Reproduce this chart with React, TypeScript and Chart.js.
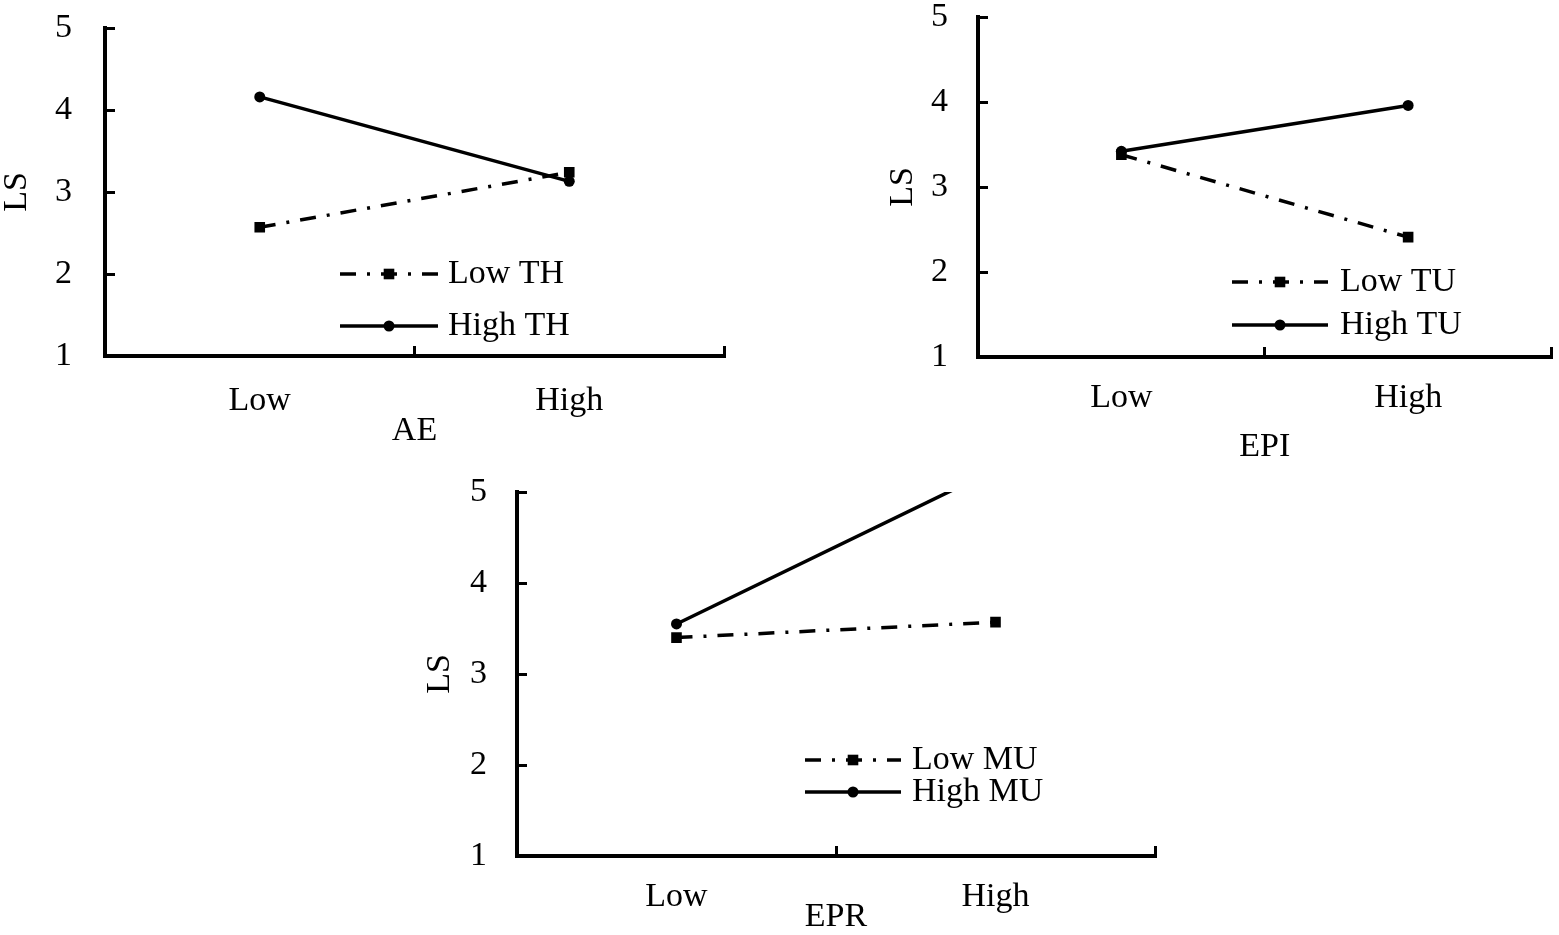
import React, { useEffect, useRef } from 'react';
import { Chart, registerables } from 'chart.js';

Chart.register(...registerables);

const FONT_FAMILY = '"Liberation Serif", "Times New Roman", Times, serif';
const FONT_SIZE = 34;

// ---- data ----
const categories = ['Low', 'High'];
const yAxisTitle = 'LS';
const yMin = 1;
const yMax = 5;

const aeTitle = 'AE';
const aeSeriesLabels = ['Low TH', 'High TH'];
const aeLowTH = [2.57, 3.24];
const aeHighTH = [4.16, 3.13];

const epiTitle = 'EPI';
const epiSeriesLabels = ['Low TU', 'High TU'];
const epiLowTU = [3.38, 2.41];
const epiHighTU = [3.42, 3.96];

const eprTitle = 'EPR';
const eprSeriesLabels = ['Low MU', 'High MU'];
const eprLowMU = [3.4, 3.57];
const eprHighMU = [3.55, 5.25];

// ---- styles ----
const DASH_DOT = [16, 11, 3, 11];
const LINE_W = 3.5;
const AXIS_W = 4;

function makeDatasets(labels: string[], low: number[], high: number[]) {
  return [
    {
      label: labels[0],
      data: low,
      borderColor: '#000',
      backgroundColor: '#000',
      borderWidth: LINE_W,
      borderDash: DASH_DOT,
      pointStyle: 'rect',
      pointRadius: 7.5,
      pointBorderWidth: 0,
      tension: 0,
    },
    {
      label: labels[1],
      data: high,
      borderColor: '#000',
      backgroundColor: '#000',
      borderWidth: LINE_W,
      pointStyle: 'circle',
      pointRadius: 5.5,
      pointBorderWidth: 0,
      tension: 0,
    },
  ];
}

const insideLegend = {
  id: 'insideLegend',
  afterDatasetsDraw(chart: any, _args: any, opts: any) {
    const ctx = chart.ctx;
    ctx.save();
    chart.data.datasets.forEach((ds: any, i: number) => {
      const y = opts.rows[i];
      ctx.strokeStyle = ds.borderColor;
      ctx.lineWidth = ds.borderWidth;
      ctx.setLineDash(ds.borderDash || []);
      ctx.lineDashOffset = 0;
      ctx.beginPath();
      ctx.moveTo(opts.x0, y);
      ctx.lineTo(opts.x1, y);
      ctx.stroke();
      ctx.setLineDash([]);
      const mx = (opts.x0 + opts.x1) / 2;
      ctx.fillStyle = ds.backgroundColor;
      ctx.beginPath();
      if (ds.pointStyle === 'rect') {
        const s = ds.pointRadius * Math.SQRT1_2;
        ctx.rect(mx - s, y - s, 2 * s, 2 * s);
      } else {
        ctx.arc(mx, y, ds.pointRadius, 0, Math.PI * 2);
      }
      ctx.fill();
      ctx.fillStyle = '#000';
      ctx.font = `${FONT_SIZE}px ${FONT_FAMILY}`;
      ctx.textAlign = 'left';
      ctx.textBaseline = 'middle';
      ctx.fillText(ds.label, opts.textX, y);
    });
    ctx.restore();
  },
};

type Spec = {
  left: number;
  top: number;
  w: number;
  h: number;
  padTop: number;
  padRight: number;
  yAxisW: number;
  xAxisH: number;
  xTickPad: number;
  xTitlePad: number;
  yTickPad: number;
  yTitlePad: number;
  xTitle: string;
  datasets: any[];
  legend: { x0: number; x1: number; textX: number; rows: number[] };
};

const specs: Spec[] = [
  {
    left: 0, top: 0, w: 740, h: 460,
    padTop: 28, padRight: 16, yAxisW: 105, xAxisH: 104,
    xTickPad: 38, xTitlePad: 12, yTickPad: 43, yTitlePad: 0,
    xTitle: aeTitle,
    datasets: makeDatasets(aeSeriesLabels, aeLowTH, aeHighTH),
    legend: { x0: 340, x1: 438, textX: 448, rows: [274, 326] },
  },
  {
    left: 880, top: 0, w: 679, h: 470,
    padTop: 17, padRight: 7, yAxisW: 98, xAxisH: 113,
    xTickPad: 34, xTitlePad: 6, yTickPad: 40, yTitlePad: 6,
    xTitle: epiTitle,
    datasets: makeDatasets(epiSeriesLabels, epiLowTU, epiHighTU),
    legend: { x0: 352, x1: 448, textX: 460, rows: [282, 325] },
  },
  {
    left: 420, top: 470, w: 750, h: 465,
    padTop: 22, padRight: 15, yAxisW: 97, xAxisH: 79,
    xTickPad: 34, xTitlePad: 1, yTickPad: 40, yTitlePad: 3,
    xTitle: eprTitle,
    datasets: makeDatasets(eprSeriesLabels, eprLowMU, eprHighMU),
    legend: { x0: 385, x1: 481, textX: 492, rows: [290, 322] },
  },
];

function Panel({ spec }: { spec: Spec }) {
  const ref = useRef<HTMLCanvasElement>(null);
  useEffect(() => {
    if (!ref.current) return;
    const font = { family: FONT_FAMILY, size: FONT_SIZE, lineHeight: 1 };
    const chart = new Chart(ref.current, {
      type: 'line',
      data: { labels: categories, datasets: spec.datasets as any },
      options: {
        animation: false,
        responsive: false,
        maintainAspectRatio: false,
        layout: { padding: { top: spec.padTop, right: spec.padRight, left: 0, bottom: 0 } },
        plugins: {
          legend: { display: false },
          tooltip: { enabled: false },
          insideLegend: spec.legend,
        } as any,
        scales: {
          x: {
            type: 'category',
            offset: true,
            grid: {
              offset: true,
              drawOnChartArea: false,
              drawTicks: true,
              tickLength: -10,
              color: '#000',
              lineWidth: 3,
            },
            border: { display: true, color: '#000', width: AXIS_W },
            ticks: { color: '#000', font, padding: spec.xTickPad, maxRotation: 0, autoSkip: false },
            title: {
              display: true,
              text: spec.xTitle,
              color: '#000',
              font,
              padding: { top: 0, bottom: spec.xTitlePad },
            },
            afterFit: (s: any) => {
              s.height = spec.xAxisH;
              s.paddingLeft = 0;
              s.paddingRight = 0;
            },
          },
          y: {
            min: yMin,
            max: yMax,
            ticks: { stepSize: 1, color: '#000', font, padding: spec.yTickPad },
            grid: {
              drawOnChartArea: false,
              drawTicks: true,
              tickLength: -10,
              color: '#000',
              lineWidth: 3,
            },
            border: { display: true, color: '#000', width: AXIS_W },
            title: {
              display: true,
              text: yAxisTitle,
              color: '#000',
              font,
              padding: { top: spec.yTitlePad, bottom: 0 },
            },
            afterFit: (s: any) => {
              s.width = spec.yAxisW;
              s.paddingTop = 0;
              s.paddingBottom = 0;
            },
          },
        },
      } as any,
      plugins: [insideLegend as any],
    });
    return () => chart.destroy();
  }, [spec]);
  return (
    <canvas
      ref={ref}
      width={spec.w}
      height={spec.h}
      style={{ position: 'absolute', left: spec.left, top: spec.top, width: spec.w, height: spec.h }}
    />
  );
}

export default function App() {
  return (
    <div style={{ position: 'absolute', left: 0, top: 0, width: 1559, height: 935, background: '#fff', overflow: 'hidden' }}>
      {specs.map((s, i) => (
        <Panel key={i} spec={s} />
      ))}
    </div>
  );
}
